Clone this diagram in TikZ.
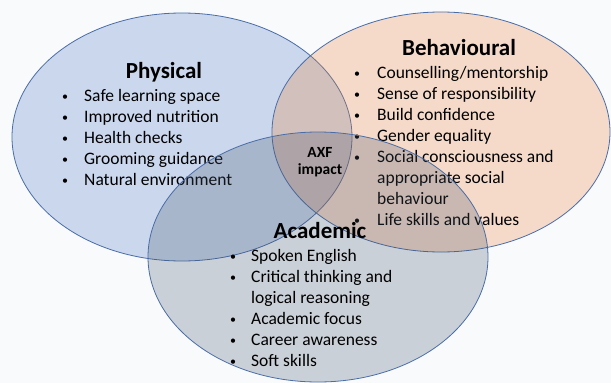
\documentclass[tikz,border=0pt]{standalone}
\usepackage{fontspec}
\setmainfont{Carlito}
\definecolor{bg}{HTML}{F8FAFC}
\definecolor{physfill}{HTML}{4472C4}
\definecolor{behfill}{HTML}{ED7D31}
\definecolor{acadfill}{HTML}{44546A}
\definecolor{edge}{HTML}{4A6DA8}
\begin{document}
\begin{tikzpicture}[x=1pt,y=-1pt,
  circ/.style={draw=edge,line width=0.8pt,fill opacity=0.25},
  head/.style={font=\fontsize{23}{26}\selectfont\bfseries,anchor=base,inner sep=0pt},
  item/.style={font=\fontsize{17.5}{21}\selectfont,anchor=base west,inner sep=0pt},
  dot/.style={font=\fontsize{12}{14}\selectfont,anchor=base,inner sep=0pt,yshift=1pt},
  core/.style={font=\fontsize{15.5}{17}\selectfont\bfseries,anchor=base,inner sep=0pt}]
\fill[bg] (0,0) rectangle (611,383);
\useasboundingbox (0,0) rectangle (611,383);
% Physical
\path[circ,fill=physfill] (182,137) ellipse [x radius=170pt,y radius=124pt];
\node[head] (ph) at (164,78) {Physical};
\foreach \t [count=\i] in {Safe learning space,Improved nutrition,Health checks,Grooming guidance,Natural environment}{
  \node[dot] (pb\i) at (65,{101+21*(\i-1)}) {•};
  \node[item] (pt\i) at (84,{101+21*(\i-1)}) {\t};
}
% Behavioural
\path[circ,fill=behfill] (441,132) ellipse [x radius=169pt,y radius=120pt];
\node[head] (bh) at (459,55) {Behavioural};
\foreach \t/\y [count=\i] in {{Counselling/mentorship}/78,Sense of responsibility/99,Build confidence/120,Gender equality/141,Social consciousness and/162,Life skills and values/225}{
  \node[dot] (bb\i) at (357,\y) {•};
  \node[item] (bt\i) at (377,\y) {\t};
}
\node[item] (bt7) at (377,183) {appropriate social};
\node[item] (bt8) at (377,204) {behaviour};
% Academic
\path[circ,fill=acadfill] (318,257) ellipse [x radius=170pt,y radius=125pt];
\node[head] (ah) at (320,238) {Academic};
\foreach \t/\y [count=\i] in {Spoken English/261,Critical thinking and/282,Academic focus/324,Career awareness/345,Soft skills/366}{
  \node[dot] (ab\i) at (233,\y) {•};
  \node[item] (at\i) at (251,\y) {\t};
}
\node[item] (at6) at (251,303) {logical reasoning};
% Centre
\node[core] (axf) at (320,157) {AXF};
\node[core] (imp) at (320,174) {impact};
\end{tikzpicture}
\end{document}
